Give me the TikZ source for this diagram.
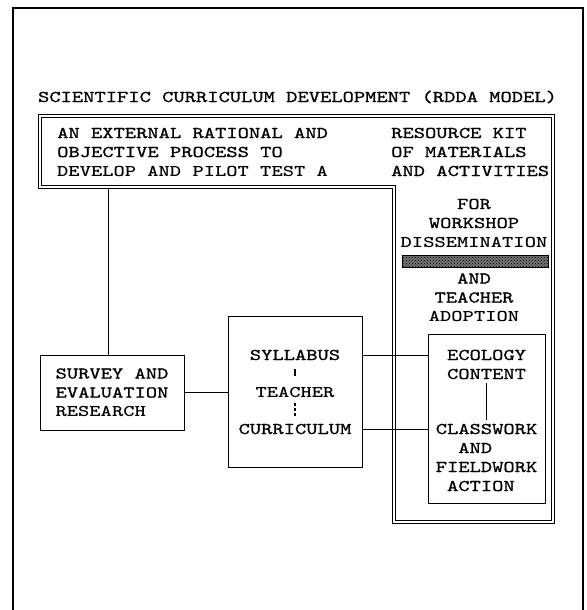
\documentclass[tikz,border=0pt]{standalone}
\usepackage{fontspec}
\usetikzlibrary{patterns}
\newfontfamily\tw{lmmono10-regular}[Extension=.otf, FakeStretch=1.31, FakeBold=1]
\newfontfamily\twb{lmmonolt10-bold}[Extension=.otf, FakeStretch=1.31]
\tikzset{
  txt/.style={font=\tw\fontsize{16.4}{19}\selectfont, inner sep=0pt},
  boxnode/.style={draw, line width=1pt, inner sep=0pt},
  conn/.style={line width=0.9pt},
  dframe/.style={double, line width=0.8pt, double distance=2.2pt},
  greybar/.style={draw=black, line width=0.8pt, fill=black!55}
}
\begin{document}
\begin{tikzpicture}[x=1pt, y=-1pt]
\useasboundingbox (0,0) rectangle (586,610);
% outer frame (open at the bottom)
\draw[line width=1.3pt] (13,615) -- (13,8) -- (583,8) -- (583,615);
% title
\node[txt, anchor=base] (title) at (297.5,102) {SCIENTIFIC CURRICULUM DEVELOPMENT (RDDA MODEL)};
% double frame
\draw[dframe] (40,116) -- (553,116) -- (553,522) -- (394,522) -- (394,187) -- (40,187) -- cycle;
\coordinate (bb) at (108,189);
% banner texts
\node[txt, anchor=west, align=left] (bl) at (57,152) {AN EXTERNAL RATIONAL AND\\OBJECTIVE PROCESS TO\\{\twb DEVELOP AND PILOT TEST A}};
\node[txt, anchor=west, align=left] (br) at (391,152) {RESOURCE KIT\\OF MATERIALS\\AND ACTIVITIES};
\node[txt, align=center] (fwd) at (474,223) {FOR\\WORKSHOP\\{\twb DISSEMINATION}};
\node[greybar, minimum width=146pt, minimum height=12pt] (bar) at (475,261.5) {};
\fill[pattern=crosshatch dots, pattern color=black] (bar.south west) rectangle (bar.north east);
\node[txt, align=center] (ado) at (474,297.5) {AND\\TEACHER\\{\twb ADOPTION}};
% boxes
\node[boxnode, txt, minimum width=144pt, minimum height=75pt, align=left] (survey) at (112,392.5) {SURVEY AND\\EVALUATION\\{\twb RESEARCH}};
\node[boxnode, minimum width=134pt, minimum height=151pt] (center) at (295,391.5) {};
\node[txt] (syl) at (295,355) {SYLLABUS};
\node[txt] (tea) at (295,392) {{\twb TEACHER}};
\node[txt] (cur) at (295,429) {CURRICULUM};
\node[boxnode, minimum width=117pt, minimum height=169pt] (eco) at (486.5,418.5) {};
\node[txt, align=center] (ecot) at (486.5,364.5) {ECOLOGY\\CONTENT};
\node[txt, align=left] (clat) at (486.5,457.5) {CLASSWORK\\\phantom{XX}AND\\FIELDWORK\\\phantom{X}ACTION};
% connectors
\draw[conn] (bb) -- (survey.north -| bb);
\draw[conn] (survey.east) -- (center.west |- survey.east);
\draw[conn] (syl -| center.east) -- (syl -| eco.west);
\draw[conn] (cur -| center.east) -- (cur -| eco.west);
\draw[conn, shorten <=4pt, shorten >=4pt] (ecot.south) -- (clat.north);
\draw[line width=1.2pt, shorten <=9pt, shorten >=11pt] (syl.south) -- (tea.north);
\draw[line width=1.2pt, dash pattern=on 3pt off 2pt, shorten <=6pt, shorten >=6pt] (tea.south) -- (cur.north);
\end{tikzpicture}
\end{document}
